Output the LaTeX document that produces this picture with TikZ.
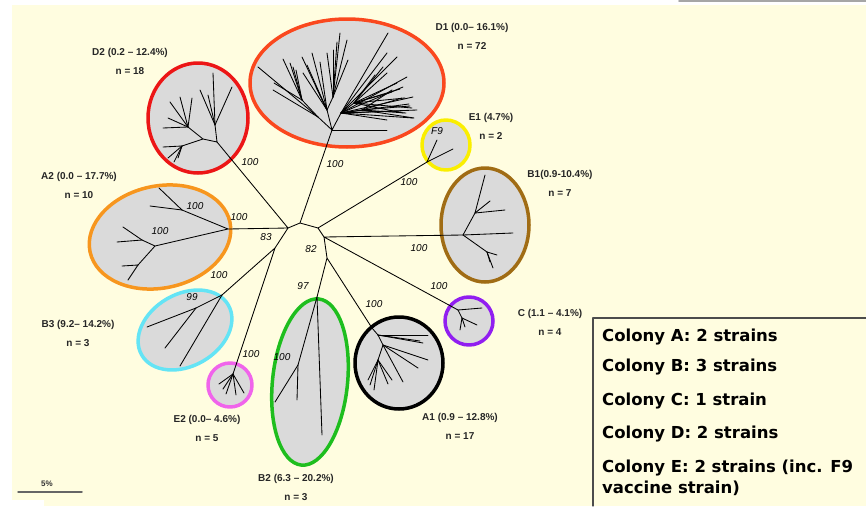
\documentclass[tikz,border=0pt]{standalone}
\usepackage{fontspec}
\setmainfont{Liberation Sans}
\newfontfamily\legendfont{DejaVu Sans}
\usetikzlibrary{shapes.geometric}
\definecolor{paper}{RGB}{255,253,224}
\definecolor{cladefill}{RGB}{218,218,218}
\definecolor{cD1}{RGB}{250,72,30}
\definecolor{cD2}{RGB}{236,22,22}
\definecolor{cA2}{RGB}{247,150,30}
\definecolor{cB3}{RGB}{100,228,245}
\definecolor{cE2}{RGB}{240,100,235}
\definecolor{cB2}{RGB}{30,190,30}
\definecolor{cA1}{RGB}{0,0,0}
\definecolor{cC}{RGB}{145,30,240}
\definecolor{cB1}{RGB}{160,108,20}
\definecolor{cE1}{RGB}{250,238,0}
\begin{document}
\begin{tikzpicture}[x=1pt, y=-1pt, line join=round, line cap=round,
	clade/.style={ellipse, fill=cladefill, line width=3.5pt, inner sep=0pt},
	branch/.style={line width=0.85pt},
	lab/.style={font=\fontsize{10}{19}\selectfont\bfseries, align=center, text=black!85},
	boot/.style={font=\fontsize{10}{12}\selectfont\itshape, text=black},
	legend/.style={font=\legendfont\fontsize{16.5}{21}\selectfont\bfseries, anchor=west, align=left, inner sep=0pt}]
	\useasboundingbox (0,0) rectangle (866,506);
	\fill[white] (0,0) rectangle (866,506);
	\fill[paper] (12,5) rectangle (866,506);
	\fill[white] (0,500) rectangle (44,506);
	\draw[gray!70, line width=2pt] (679,1) -- (866,1);
	\foreach \n/\c/\x/\y/\w/\h/\r in {D1/cD1/347/83/194/128/0, D2/cD2/198/118/100/110/0, A2/cA2/160/237/143/102/12, B3/cB3/185/330/100/72/30, E2/cE2/230/385/44/44/0, B2/cB2/310/382/75/167/-6, A1/cA1/399/363/88/92/0, C/cC/469/321/48/48/0, B1/cB1/485/225/88/114/0, E1/cE1/446/145/48/50/0}
		\node[clade, draw=\c, minimum width=\w, minimum height=\h, rotate=\r] (\n) at (\x,\y) {};
	\foreach \n/\x/\y in {j1/288/228, j2/300/223, j3/275/248, j4/318/228, j5/324/237, j6/327/258,
		d1r/332/130, d1a/318/117, d1b/302/100, d1c/327/110, d1d/333/97, d1e/341/113, d1f/354/103, d1g/362/110,
		d2r/217/142, d2a/215/125, d2b/203/139, d2c/188/127, d2d/182/146,
		e1r/427/162, b1r/463/235, b1a/475/213, b1c/487/252, cr/458/310, ca/462/318,
		a1r/372/328, a1a/378/335, a1b/383/345, a1c/378/360,
		a2r/228/229, a2a/182/210, a2b/155/246, a2c/142/240, a2d/138/265,
		b3r/222/295, b3a/196/308, e2r/233/374, b2r/317/297, b2a/298/365}
		\coordinate (\n) at (\x,\y);
	\draw[branch] (d2r) -- (j1) -- (a2r) (j1) -- (j2) -- (d1r) (j2) -- (j4) -- (e1r) (j4) -- (j5) -- (b1r)
		(j5) -- (cr) (j5) -- (j6) -- (b2r) (j6) -- (a1r) (j1) -- (j3) -- (b3r) (j3) -- (e2r);
	\draw[branch] (d1r) -- (d1a) -- (d1b) (d1r) -- (d1c) -- (d1d) (d1r) -- (d1e) -- (d1f) (d1e) -- (d1g)
		(d2r) -- (d2a) (d2r) -- (d2b) -- (d2c) (d2b) -- (d2d) (b1r) -- (b1a) (b1r) -- (b1c) (cr) -- (ca)
		(a1r) -- (a1a) -- (a1b) -- (a1c) (a2r) -- (a2a) (a2r) -- (a2b) -- (a2c) (a2b) -- (a2d)
		(b3r) -- (b3a) (b2r) -- (b2a);
	\foreach \p/\dx/\dy in {d1r/55/0, d1a/-60/-50, d1a/-45/-27,
		d1b/-19/-41, d1b/-12/-37, d1b/-28/-17, d1b/-6/-30, d1b/-9/-33,
		d1c/-25/-53, d1c/-24/-37, d1c/-15/-57, d1c/-11/-23, d1c/-7/-48, d1c/-20/-45,
		d1d/7/-64, d1d/-6/-44, d1d/0/-47, d1d/14/-57, d1d/15/-37, d1d/4/-55,
		d1e/47/-80, d1e/56/-56, d1e/46/-60, d1e/66/-36, d1e/62/-26, d1e/72/-16, d1e/76/-3, d1e/72/5, d1e/46/7,
		d1e/60/-2, d1e/68/-9,
		d1f/29/-36, d1f/43/-20, d1f/51/-5, d1f/58/5, d1f/49/10, d1f/21/-28, d1f/38/-11, d1f/33/-30, d1f/46/-14,
		d1g/40/-12, d1g/48/-4, d1g/44/3, d1g/30/-20, d1g/52/8,
		d2a/-2/-52, d2a/17/-38, d2a/-15/-35, d2a/-7/-30,
		d2c/-18/-25, d2c/-8/-30, d2c/4/-29, d2c/-25/1, d2c/-20/-9,
		d2d/-14/12, d2d/-8/16, d2d/-19/1, d2d/-4/12,
		e1r/10/-22, e1r/26/-13,
		b1a/10/-38, b1a/30/-3, b1a/15/-12, b1r/50/-2, b1c/10/3, b1c/6/16, b1c/3/10,
		cr/24/-2, ca/15/7, ca/-2/12, ca/3/9,
		a1a/50/0, a1a/42/6, a1a/45/8, a1b/45/15, a1b/35/23, a1b/20/37,
		a1c/-8/25, a1c/-4/30, a1c/-10/20, a1c/10/24, a1c/14/20,
		a2a/-23/-22, a2a/-32/-4, a2c/-19/-13, a2c/-25/2, a2d/-10/15, a2d/-16/1,
		b3a/-49/19, b3a/-31/40, b3r/-42/71,
		e2r/-14/10, e2r/-7/20, e2r/3/21, e2r/11/19, e2r/-10/15,
		b2r/5/138, b2a/-23/37, b2a/-1/35}
		\draw[branch] (\p) -- ++(\dx,\dy);
	\foreach \n/\x/\y/\t in {labD1/472/36.5/{D1 (0.0– 16.1\%)\\n = 72}, labD2/130/61/{D2 (0.2 – 12.4\%)\\n = 18},
		labE1/491/126.5/{E1 (4.7\%)\\n = 2}, labB1/560/183.5/{B1(0.9-10.4\%)\\n = 7},
		labA2/79/185/{A2 (0.0 – 17.7\%)\\n = 10}, labB3/78/333.5/{B3 (9.2– 14.2\%)\\n = 3},
		labE2/207/428.5/{E2 (0.0– 4.6\%)\\n = 5}, labB2/296/487.5/{B2 (6.3 – 20.2\%)\\n = 3},
		labA1/460/426.5/{A1 (0.9 – 12.8\%)\\n = 17}, labC/550/322/{C (1.1 – 4.1\%)\\n = 4}}
		\node[lab] (\n) at (\x,\y) {\t};
	\foreach \n/\x/\y/\t in {bsD2/250/162/100, bsD1/335/164/100, bsE1/409/182/100, bsA2/239/217/100,
		bsA2a/195/206/100, bsA2b/160/231/100, bsJ3/266/237/83, bsJ6/311/249/82, bsB1/419/248/100,
		bsB3/219/275/100, bsB3a/192/297/99, bsB2/303/286/97, bsA1/374/304/100, bsC/439/286/100,
		bsE2/251/354/100, bsB2a/282/357/100, f9/437/131/F9}
		\node[boot] (\n) at (\x,\y) {\t};
	\draw[black!70, line width=1.2pt] (593,506) -- (593,318) -- (866,318);
	\node[legend] (legA) at (602,337) {Colony A: 2 strains};
	\node[legend] (legB) at (602,367) {Colony B: 3 strains};
	\node[legend] (legC) at (602,401) {Colony C: 1 strain};
	\node[legend] (legD) at (602,434) {Colony D: 2 strains};
	\node[legend] (legE) at (602,478) {Colony E: 2 strains (inc. F9\\vaccine strain)};
	\coordinate (bar0) at (18,492);
	\coordinate (bar1) at (82,492);
	\draw[gray!80!black, line width=1.5pt] (bar0) -- (bar1);
	\node[font=\fontsize{8}{10}\selectfont\bfseries, text=black!80] (barlab) at (47,484) {5\%};
\end{tikzpicture}
\end{document}
